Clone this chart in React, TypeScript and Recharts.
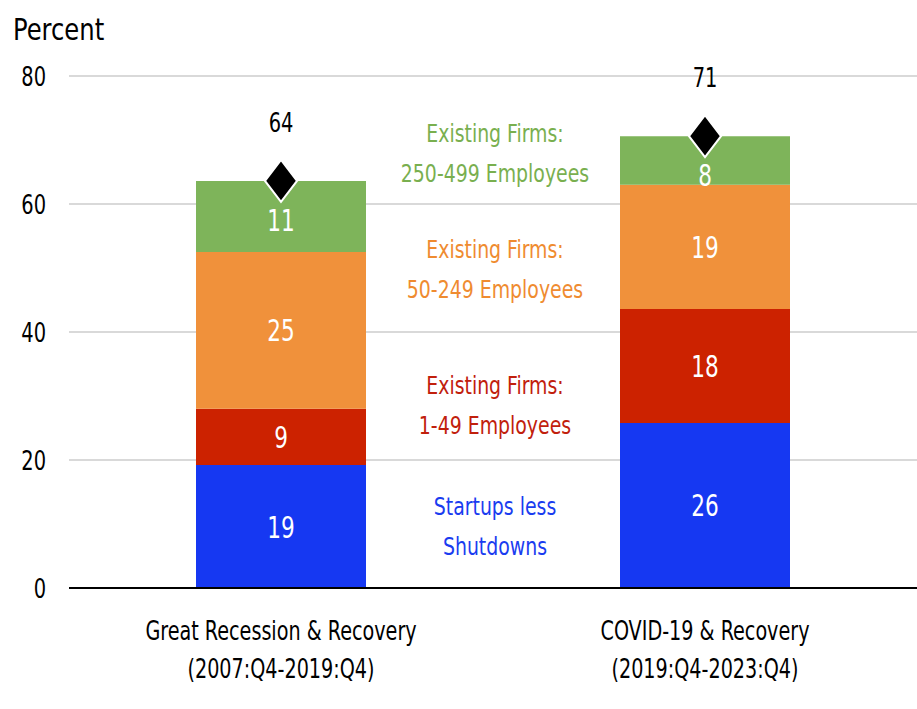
import React from "react";
import { ComposedChart, Bar, Line, XAxis, YAxis, CartesianGrid, LabelList } from "recharts";

const categories = ["Great Recession & Recovery|(2007:Q4-2019:Q4)", "COVID-19 & Recovery|(2019:Q4-2023:Q4)"];
const startups = [19.2, 25.8];
const firms1to49 = [8.8, 17.8];
const firms50to249 = [24.5, 19.4];
const firms250to499 = [11.1, 7.6];
const totals = [63.6, 70.6];
const totalLabels = ["64", "71"];
const segLabels = {
  startups: ["19", "26"],
  f1: ["9", "18"],
  f2: ["25", "19"],
  f3: ["11", "8"],
};
const yTicks = [0, 20, 40, 60, 80];

const data = categories.map((c, i) => ({
  name: c,
  startups: startups[i],
  f1: firms1to49[i],
  f2: firms50to249[i],
  f3: firms250to499[i],
  total: totals[i],
  totalLabel: totalLabels[i],
  l0: segLabels.startups[i],
  l1: segLabels.f1[i],
  l2: segLabels.f2[i],
  l3: segLabels.f3[i],
}));

const FONT = "'DejaVu Sans Condensed', 'DejaVu Sans', sans-serif";
const C_BLUE = "#1638f2";
const C_RED = "#cc2200";
const C_ORANGE = "#f0913b";
const C_GREEN = "#7eb45a";

const SText = (p: any) => {
  const { x, y, size, scale, anchor = "middle", fill = "#000", children } = p;
  return (
    <g transform={`translate(${x},${y}) scale(${scale},1)`}>
      <text x={0} y={0} textAnchor={anchor} fontSize={size} fontFamily={FONT} fill={fill}>
        {children}
      </text>
    </g>
  );
};

const CatTick = (props: any) => {
  const { x, y, payload } = props;
  const [a, b] = String(payload.value).split("|");
  return (
    <g>
      <SText x={x} y={y + 50} size={27} scale={0.79}>{a}</SText>
      <SText x={x} y={y + 88} size={27} scale={0.79}>{b}</SText>
    </g>
  );
};

const YTick = (props: any) => {
  const { x, y, payload } = props;
  return (
    <SText x={x} y={y + 10} size={27} scale={0.8} anchor="end">{payload.value}</SText>
  );
};

const Diamond = (props: any) => {
  const { cx, cy } = props;
  if (cx == null || cy == null) return null;
  const w = 16, h = 21;
  return (
    <polygon
      points={`${cx},${cy - h} ${cx + w},${cy} ${cx},${cy + h} ${cx - w},${cy}`}
      fill="#000"
      stroke="#fff"
      strokeWidth={2}
    />
  );
};

const centerLabel = (key: string) => (props: any) => {
  const { x, y, width, height, index } = props;
  const v = (data[index] as any)[key];
  return (
    <SText x={x + width / 2} y={y + height / 2 + 11} size={30} scale={0.8} fill="#fff">{v}</SText>
  );
};

const topLabel = (props: any) => {
  const { x, y, width, height, index } = props;
  const v = (data[index] as any).l3;
  const cy = Math.max(y + height / 2, y + 39);
  return (
    <SText x={x + width / 2} y={cy + 11} size={30} scale={0.8} fill="#fff">{v}</SText>
  );
};

const totalLabel = (props: any) => {
  const { x, y, index } = props;
  return (
    <SText x={x} y={y - 59 + 10} size={27} scale={0.8}>{data[index].totalLabel}</SText>
  );
};

const annotations = [
  { lines: ["Existing Firms:", "250-499 Employees"], color: "#79af4f", top: 134 },
  { lines: ["Existing Firms:", "50-249 Employees"], color: "#ef8b30", top: 250 },
  { lines: ["Existing Firms:", "1-49 Employees"], color: "#c1200c", top: 386 },
  { lines: ["Startups less", "Shutdowns"], color: "#1a3cf0", top: 507 },
];

export default function App() {
  return (
    <div style={{ position: "absolute", left: 0, top: 0, width: 917, height: 709, background: "#fff", fontFamily: FONT }}>
      <ComposedChart width={917} height={709} data={data} margin={{ top: 76, right: 0, bottom: 0, left: 0 }}>
        <CartesianGrid vertical={false} stroke="#d9d9d9" strokeWidth={2} />
        <XAxis
          dataKey="name"
          tick={<CatTick />}
          tickLine={false}
          axisLine={{ stroke: "#000", strokeWidth: 2 }}
          interval={0}
          height={121}
          tickSize={0}
        />
        <YAxis
          domain={[0, 80]}
          ticks={yTicks}
          width={69}
          tickLine={false}
          axisLine={false}
          tickSize={0}
          tickMargin={23}
          tick={<YTick />}
        />
        <Bar dataKey="startups" stackId="a" fill={C_BLUE} barSize={170} isAnimationActive={false}>
          <LabelList dataKey="l0" content={centerLabel("l0")} />
        </Bar>
        <Bar dataKey="f1" stackId="a" fill={C_RED} barSize={170} isAnimationActive={false}>
          <LabelList dataKey="l1" content={centerLabel("l1")} />
        </Bar>
        <Bar dataKey="f2" stackId="a" fill={C_ORANGE} barSize={170} isAnimationActive={false}>
          <LabelList dataKey="l2" content={centerLabel("l2")} />
        </Bar>
        <Bar dataKey="f3" stackId="a" fill={C_GREEN} barSize={170} isAnimationActive={false}>
          <LabelList dataKey="l3" content={topLabel} />
        </Bar>
        <Line
          dataKey="total"
          stroke="none"
          dot={<Diamond />}
          activeDot={false}
          isAnimationActive={false}
        >
          <LabelList dataKey="totalLabel" content={totalLabel} />
        </Line>
      </ComposedChart>
      <div
        style={{
          position: "absolute",
          left: 13,
          top: 10,
          fontSize: 31,
          color: "#000",
          lineHeight: "38px",
          transform: "scaleX(0.87)",
          transformOrigin: "left center",
          whiteSpace: "nowrap",
        }}
      >
        Percent
      </div>
      {annotations.map((a, i) => (
        <div
          key={i}
          style={{
            position: "absolute",
            left: 345,
            width: 300,
            top: a.top - 20,
            textAlign: "center",
            color: a.color,
            fontSize: 25,
            lineHeight: "40px",
            whiteSpace: "nowrap",
            transform: "scaleX(0.84)",
            transformOrigin: "center center",
          }}
        >
          {a.lines.map((l, j) => (
            <div key={j}>{l}</div>
          ))}
        </div>
      ))}
    </div>
  );
}
